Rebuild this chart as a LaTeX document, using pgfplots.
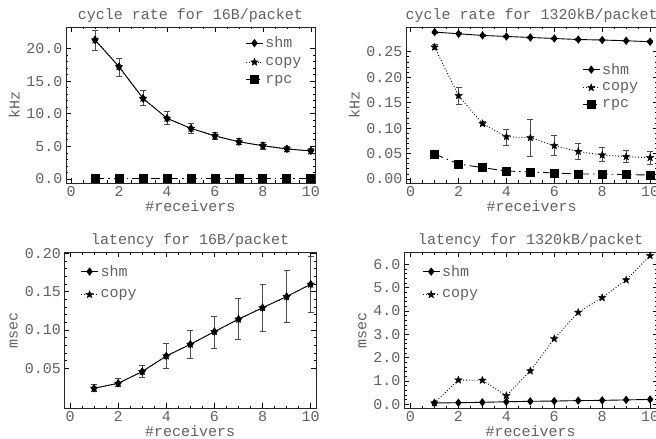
\documentclass[border=0pt]{standalone}
\usepackage{pgfplots}
\pgfplotsset{compat=1.18}
\usepackage{pgfplotstable}
\usepackage{fontspec}
\setmainfont{Liberation Mono}
\setmonofont{Liberation Mono}
\newcommand\ff{\fontsize{15}{17}\selectfont}
\colorlet{txt}{black!62}

\pgfdeclareplotmark{fstar}{%
  \pgfpathmoveto{\pgfpointpolar{90}{\pgfplotmarksize}}%
  \pgfpathlineto{\pgfpointpolar{126}{0.42\pgfplotmarksize}}%
  \pgfpathlineto{\pgfpointpolar{162}{\pgfplotmarksize}}%
  \pgfpathlineto{\pgfpointpolar{198}{0.42\pgfplotmarksize}}%
  \pgfpathlineto{\pgfpointpolar{234}{\pgfplotmarksize}}%
  \pgfpathlineto{\pgfpointpolar{270}{0.42\pgfplotmarksize}}%
  \pgfpathlineto{\pgfpointpolar{306}{\pgfplotmarksize}}%
  \pgfpathlineto{\pgfpointpolar{342}{0.42\pgfplotmarksize}}%
  \pgfpathlineto{\pgfpointpolar{18}{\pgfplotmarksize}}%
  \pgfpathlineto{\pgfpointpolar{54}{0.42\pgfplotmarksize}}%
  \pgfpathclose\pgfusepathqfillstroke}

% cycle rate 16B
\pgfplotstableread{
x y ep em
1 21.3 1.4 1.6
2 17.2 1.3 1.5
3 12.35 1.25 1.05
4 9.3 1.0 1.0
5 7.75 0.75 0.75
6 6.6 0.6 0.6
7 5.7 0.55 0.45
8 5.1 0.5 0.5
9 4.6 0.45 0.4
10 4.3 0.4 0.4
}\crsmall
\pgfplotstableread{
x y
1 0.1
2 0.1
3 0.1
4 0.1
5 0.1
6 0.1
7 0.1
8 0.1
9 0.1
10 0.1
}\crsmallrpc
% cycle rate 1320kB
\pgfplotstableread{
x y ep em
1 0.2886 0.002 0.002
2 0.2853 0.002 0.002
3 0.2820 0.002 0.002
4 0.2800 0.0015 0.0015
5 0.2780 0.0015 0.0015
6 0.2760 0.0015 0.0015
7 0.2740 0.0015 0.0015
8 0.2730 0.0015 0.0015
9 0.2716 0.0015 0.0015
10 0.2696 0.002 0.002
}\crbigshm
\pgfplotstableread{
x y ep em
1 0.2590 0.0050 0.0044
2 0.1636 0.0164 0.0166
3 0.1086 0.0040 0.0036
4 0.0830 0.0145 0.0176
5 0.0810 0.0360 0.0365
6 0.0654 0.0206 0.0184
7 0.0540 0.0160 0.0150
8 0.0470 0.0145 0.0123
9 0.0438 0.0118 0.0118
10 0.0419 0.0118 0.0131
}\crbigcopy
\pgfplotstableread{
x y
1 0.0490
2 0.0295
3 0.0222
4 0.0157
5 0.0137
6 0.0118
7 0.0098
8 0.0098
9 0.0085
10 0.0079
}\crbigrpc
% latency 16B
\pgfplotstableread{
x y ep em
1 0.0239 0.0052 0.0043
2 0.0304 0.0066 0.0044
3 0.0457 0.0078 0.0074
4 0.0660 0.0166 0.0160
5 0.0813 0.0177 0.0183
6 0.0978 0.0202 0.0218
7 0.1140 0.0270 0.0270
8 0.1290 0.0306 0.0303
9 0.1435 0.0345 0.0335
10 0.1596 0.0369 0.0370
}\latsmall
% latency 1320kB
\pgfplotstableread{
x y
1 0.057
2 0.070
3 0.086
4 0.110
5 0.130
6 0.140
7 0.160
8 0.170
9 0.190
10 0.210
}\latbigshm
\pgfplotstableread{
x y
1 0.06
2 1.04
3 1.03
4 0.37
5 1.43
6 2.81
7 3.94
8 4.57
9 5.33
10 6.37
}\latbigcopy

\pgfplotsset{
  panel/.style={
    scale only axis, height=156pt,
    axis line style={black!85, line width=0.8pt},
    tick style={black, line width=0.7pt},
    major tick length=5pt, minor tick length=2.5pt,
    xtick={0,2,...,10}, minor x tick num=3, minor y tick num=4,
    ticklabel style={font=\ff, text=txt},
    label style={font=\ff, text=txt},
    title style={font=\ff, text=txt, yshift=-5pt},
    xlabel={\#receivers},
    xlabel style={yshift=3pt},
    /pgf/number format/assume math mode=true,
    legend cell align=left,
    legend style={draw=none, fill=none, font=\ff, text=txt, anchor=north west, inner sep=0pt},
  },
  shm/.style={black, line width=0.9pt, solid, mark=diamond*, mark size=3.5pt, mark options={solid}},
  copy/.style={black, line width=0.9pt, dotted, mark=fstar, mark size=4pt, mark options={solid, line width=0.3pt}},
  rpc/.style={black, line width=0.9pt, dash pattern=on 9pt off 4pt on 1.5pt off 4pt, mark=square*, mark size=4pt, mark options={solid}},
  eb/.style={error bars/.cd, y dir=both, y explicit,
    error bar style={line width=0.9pt, black!70, solid},
    error mark options={rotate=90, mark size=3pt, line width=0.9pt, black!70, solid}},
}

\begin{document}
\begin{tikzpicture}
\useasboundingbox (0pt,0pt) rectangle (656pt,439pt);

% top-left
\begin{axis}[panel, at={(66pt,256pt)}, anchor=south west, width=249pt,
  xmin=-0.21, xmax=10.17, ymin=-0.61, ymax=23.28,
  ytick={0,5,...,20}, ylabel={kHz},
  yticklabel style={/pgf/number format/.cd, fixed, fixed zerofill, precision=1},
  title={cycle rate for 16B/packet},
  legend style={at={(0.72,0.95)}, row sep=4pt}]
\addplot[shm, eb] table[x=x, y=y, y error plus=ep, y error minus=em] {\crsmall};
\addlegendentry{shm}
\addplot[copy] table[x=x, y=y] {\crsmall};
\addlegendentry{copy}
\addplot[rpc] table[x=x, y=y] {\crsmallrpc};
\addlegendentry{rpc}
\end{axis}

% top-right
\begin{axis}[panel, at={(406pt,256pt)}, anchor=south west, width=251.5pt,
  xmin=-0.196, xmax=10.31, ymin=-0.0079, ymax=0.2986,
  ytick={0,0.05,...,0.26}, ylabel={kHz},
  yticklabel style={/pgf/number format/.cd, fixed, fixed zerofill, precision=2},
  title={cycle rate for 1320kB/packet},
  legend style={at={(0.70,0.78)}, row sep=3pt}]
\addplot[shm, eb] table[x=x, y=y, y error plus=ep, y error minus=em] {\crbigshm};
\addlegendentry{shm}
\addplot[copy, eb] table[x=x, y=y, y error plus=ep, y error minus=em] {\crbigcopy};
\addlegendentry{copy}
\addplot[rpc] table[x=x, y=y] {\crbigrpc};
\addlegendentry{rpc}
\end{axis}

% bottom-left
\begin{axis}[panel, at={(64.3pt,30.7pt)}, anchor=south west, width=251.7pt,
  xmin=-0.237, xmax=10.22, ymin=-0.0022, ymax=0.2013,
  ytick={0.05,0.10,0.15,0.20}, ylabel={msec},
  yticklabel style={/pgf/number format/.cd, fixed, fixed zerofill, precision=2},
  title={latency for 16B/packet},
  legend style={at={(0.064,0.93)}, row sep=8pt}]
\addplot[shm, eb] table[x=x, y=y, y error plus=ep, y error minus=em] {\latsmall};
\addlegendentry{shm}
\addplot[copy] table[x=x, y=y] {\latsmall};
\addlegendentry{copy}
\end{axis}

% bottom-right
\begin{axis}[panel, at={(404pt,30.7pt)}, anchor=south west, width=253.5pt,
  xmin=-0.27, xmax=10.31, ymin=-0.17, ymax=6.515,
  ytick={0,1,...,6}, ylabel={msec},
  yticklabel style={/pgf/number format/.cd, fixed, fixed zerofill, precision=1},
  title={latency for 1320kB/packet},
  legend style={at={(0.071,0.93)}, row sep=8pt}]
\addplot[shm] table[x=x, y=y] {\latbigshm};
\addlegendentry{shm}
\addplot[copy] table[x=x, y=y] {\latbigcopy};
\addlegendentry{copy}
\end{axis}
\end{tikzpicture}
\end{document}
